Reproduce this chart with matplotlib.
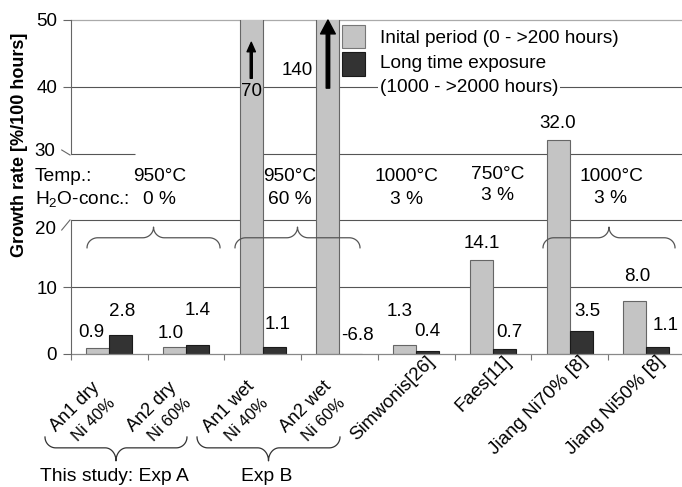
import matplotlib
matplotlib.use('Agg')
import matplotlib.pyplot as plt
import numpy as np
from matplotlib.patches import Rectangle, ArrowStyle
from matplotlib.transforms import offset_copy

plt.rcParams['font.family'] = ['Liberation Sans', 'DejaVu Sans']
plt.rcParams['mathtext.fontset'] = 'custom'
plt.rcParams['mathtext.rm'] = 'Liberation Sans'
plt.rcParams['mathtext.it'] = 'Liberation Sans:italic'

# ---------------- data ----------------
label_line1 = ['An1 dry', 'An2 dry', 'An1 wet', 'An2 wet',
               'Simwonis[26]', 'Faes[11]', 'Jiang Ni70% [8]', 'Jiang Ni50% [8]']
label_line2 = ['Ni 40%', 'Ni 60%', 'Ni 40%', 'Ni 60%', '', '', '', '']
initial = [0.9, 1.0, 70, 140, 1.3, 14.1, 32.0, 8.0]
longterm = [2.8, 1.4, 1.1, -6.8, 0.4, 0.7, 3.5, 1.1]
series_names = ['Inital period (0 - >200 hours)',
                'Long time exposure\n(1000 - >2000 hours)']

# value-label placement (annotation positions, data units)
initial_label_y = [3.2, 3.0, 39.3, 42.5, 6.3, 16.6, 34.5, 11.6]
initial_label_dx = [-0.08, -0.045, 0.0, 0.0, -0.06, 0.0, 0.0, 0.03]
longterm_label_y = [6.3, 6.45, 4.4, 2.8, 3.3, 3.2, 6.3, 4.2]
longterm_label_dx = [0.02, 0.0, 0.05, 0.085, 0.0, 0.065, 0.08, 0.1]

# condition annotations
cond_temp = ['950°C', '950°C', '1000°C', '750°C', '1000°C']
cond_h2o = ['0 %', '60 %', '3 %', '3 %', '3 %']
cond_x = [0.65, 2.35, 3.87, 5.06, 6.54]
cond_y_temp = [26.6, 26.6, 26.6, 26.9, 26.6]
cond_y_h2o = [23.2, 23.2, 23.2, 23.8, 23.3]

group_names = ['This study: Exp A', 'Exp B']

yticks = [0, 10, 40, 50]
ybreak = [20, 30]

FS = 13.5

# ---------------- figure ----------------
fig = plt.figure(figsize=(6.82, 4.87), dpi=100)
ax = fig.add_axes([71 / 682, 1 - 354 / 487, 613.6 / 682, 334 / 487])

x = np.arange(len(label_line1))
w = 0.3
ax.bar(x - w / 2, initial, w, color='#c4c4c4', edgecolor='#666666',
       linewidth=0.8, zorder=2)
ax.bar(x + w / 2, longterm, w, color='#333333', edgecolor='#1a1a1a',
       linewidth=0.8, zorder=2)

ax.set_xlim(-0.5, len(x) - 0.5)
ax.set_ylim(0, 50)

# spines / ticks
for s in ['top', 'right', 'left']:
    ax.spines[s].set_visible(False)
ax.spines['bottom'].set_color('#888888')
ax.spines['bottom'].set_linewidth(0.9)
ax.set_yticks(yticks)
ax.set_yticklabels([str(v) for v in yticks], fontsize=13.5)
ax.tick_params(axis='y', length=5.5, width=0.8, color='#666666', pad=4.5)
ax.set_xticks(np.arange(-0.5, len(x), 1))
ax.set_xticklabels([])
ax.tick_params(axis='x', length=4.5, width=0.8, color='#777777')

# broken left spine
ax.plot([-0.5, -0.5], [0, ybreak[0]], color='#666666', lw=0.8, clip_on=False, zorder=3)
ax.plot([-0.5, -0.5], [ybreak[1], 50], color='#666666', lw=0.8, clip_on=False, zorder=3)
ax.plot([-0.621, -0.513], [30.54, 29.79], color='#666666', lw=0.8, clip_on=False)
ax.plot([-0.621, -0.513], [18.56, 20.06], color='#666666', lw=0.8, clip_on=False)
ax.text(-0.70, 30.3, str(ybreak[1]), ha='right', va='center', fontsize=13.5)
ax.text(-0.70, 18.71, str(ybreak[0]), ha='right', va='center', fontsize=13.5)

# gridlines
for v in [10, 20, 40]:
    ax.axhline(v, color='#555555', lw=0.8, zorder=1)
ax.axhline(50, color='#aaaaaa', lw=0.9, zorder=1, clip_on=False)
ax.hlines(30, -0.5, 0.334, color='#555555', lw=0.8, zorder=1)
ax.hlines(30, 1.716, 7.5, color='#555555', lw=0.8, zorder=1)

# value labels
for i in range(len(x)):
    v = initial[i]
    txt = f'{v:.0f}' if v >= 50 else f'{v:.1f}'
    if v >= 100:
        ax.text(x[i] - w - 0.04, initial_label_y[i], txt, ha='right',
                va='center', fontsize=FS, zorder=4)
    else:
        ax.text(x[i] - w / 2 + initial_label_dx[i], initial_label_y[i], txt,
                ha='center', va='center', fontsize=FS, zorder=4)
    v2 = longterm[i]
    ax.text(x[i] + w / 2 + longterm_label_dx[i], longterm_label_y[i],
            f'{v2:.1f}', ha='center', va='center', fontsize=FS, zorder=4)

# off-scale arrows
ax.annotate('', xy=(x[2] - w / 2, 46.66), xytext=(x[2] - w / 2, 41.27),
            arrowprops=dict(arrowstyle=ArrowStyle.Simple(head_length=0.68, head_width=0.6,
                                                         tail_width=0.15),
                            mutation_scale=10, color='black', shrinkA=0, shrinkB=0),
            zorder=5)
ax.annotate('', xy=(x[3] - w / 2, 50.0), xytext=(x[3] - w / 2, 39.8),
            arrowprops=dict(arrowstyle=ArrowStyle.Simple(head_length=1.0, head_width=1.06,
                                                         tail_width=0.25),
                            mutation_scale=10, color='black', shrinkA=0, shrinkB=0),
            zorder=5, annotation_clip=False)

# condition annotation texts
ax.text(-0.97, 26.6, 'Temp.:', ha='left', va='center', fontsize=13.8)
ax.text(-0.97, 23.2, 'H$_2$O-conc.:', ha='left', va='center', fontsize=13.8)
for cx, t, h, yt, yh in zip(cond_x, cond_temp, cond_h2o, cond_y_temp, cond_y_h2o):
    ax.text(cx, yt, t, ha='center', va='center', fontsize=13.8, zorder=4)
    ax.text(cx, yh, h, ha='center', va='center', fontsize=13.8, zorder=4)


def brace(ax, x0, x1, y_end, y_mid, y_tip, rx, transform, **kw):
    xc = (x0 + x1) / 2
    t1 = np.linspace(np.pi, np.pi / 2, 20)
    xa = x0 + rx + rx * np.cos(t1)
    ya = y_end + (y_mid - y_end) * np.sin(t1)
    t2 = np.linspace(-np.pi / 2, 0, 20)
    xb = xc - rx + rx * np.cos(t2)
    yb = y_tip + (y_tip - y_mid) * np.sin(t2)
    xl = np.concatenate([xa, xb])
    yl = np.concatenate([ya, yb])
    xs = np.concatenate([xl, (2 * xc - xl)[::-1]])
    ys = np.concatenate([yl, yl[::-1]])
    ax.plot(xs, ys, transform=transform, clip_on=False, **kw)


# braces inside plot
for (b0, b1) in [(-0.291, 1.443), (1.638, 3.268), (5.654, 7.375)]:
    brace(ax, b0, b1, 15.9, 17.4, 19.0, 0.14, ax.transData,
          color='#555555', lw=0.9, zorder=4)

# braces below axis
xtrans = ax.get_xaxis_transform()
for (b0, b1), name in zip([(-0.839, 1.012), (1.143, 3.007)], group_names):
    brace(ax, b0, b1, -0.2485, -0.281, -0.320, 0.14, xtrans,
          color='#333333', lw=0.9)
    ax.text((b0 + b1) / 2 - 0.02, -0.368, name, transform=xtrans,
            ha='center', va='center', fontsize=13.9)

# x category labels
for i in range(len(x)):
    if label_line2[i]:
        t1 = offset_copy(xtrans, fig=fig, x=-34, y=-53, units='dots')
        ax.text(x[i], 0, label_line1[i], transform=t1, rotation=45,
                rotation_mode='anchor', ha='center', va='center', fontsize=13)
        t2 = offset_copy(xtrans, fig=fig, x=-16, y=-66, units='dots')
        ax.text(x[i], 0, label_line2[i], transform=t2, rotation=45,
                rotation_mode='anchor', ha='center', va='center', fontsize=12)
    else:
        t1 = offset_copy(xtrans, fig=fig, x=16, y=-5, units='dots')
        ax.text(x[i], 0, label_line1[i], transform=t1, rotation=45,
                rotation_mode='anchor', ha='right', va='center', fontsize=13.5)

# y label
fig.text(20 / 682, 1 - 145 / 487, 'Growth rate [%/100 hours]', rotation=90,
         ha='center', va='center', fontsize=13, fontweight='bold')

# legend (manual)
ax.add_patch(Rectangle((0.4417, 0.916), 0.0375, 0.069, transform=ax.transAxes,
                       facecolor='#c4c4c4', edgecolor='#777777', lw=0.8,
                       clip_on=False, zorder=5))
ax.add_patch(Rectangle((0.4417, 0.833), 0.0375, 0.071, transform=ax.transAxes,
                       facecolor='#333333', edgecolor='#1a1a1a', lw=0.8,
                       clip_on=False, zorder=5))
name2a, name2b = series_names[1].split('\n')
for txt, yy in zip([series_names[0], name2a, name2b], [0.946, 0.871, 0.799]):
    ax.text(0.5036, yy, txt, transform=ax.transAxes, ha='left', va='center',
            fontsize=13.7, zorder=5,
            bbox=dict(facecolor='white', edgecolor='none', pad=1.5))

fig.savefig('out.png', dpi=100)
